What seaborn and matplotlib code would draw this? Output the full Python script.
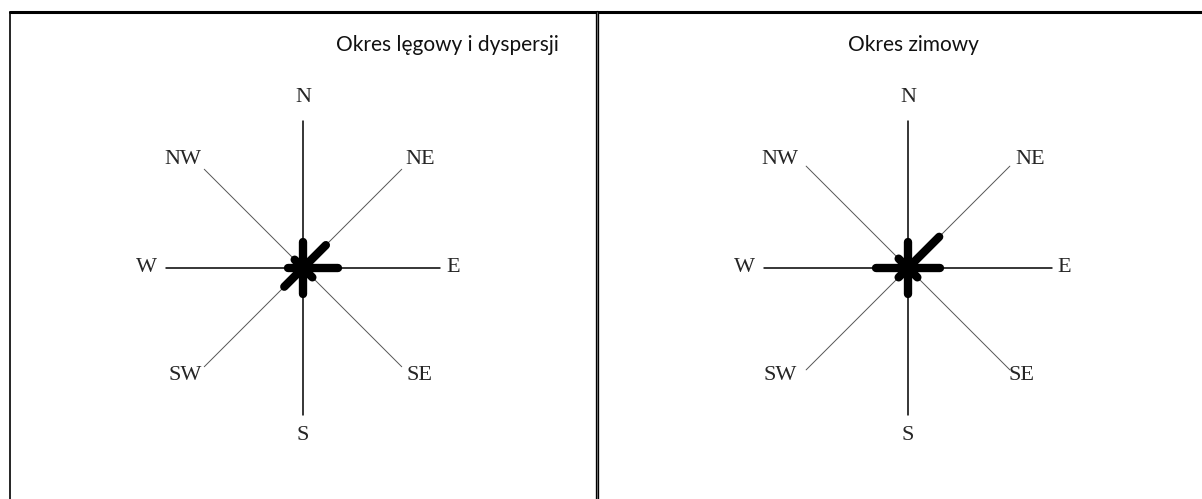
import numpy as np
import pandas as pd
import matplotlib
matplotlib.use("Agg")
import matplotlib.pyplot as plt
import seaborn as sns
from matplotlib.lines import Line2D

# -----------------------------
# DATA
# -----------------------------
directions = ["N", "NE", "E", "SE", "S", "SW", "W", "NW"]
angles_deg = [90, 45, 0, -45, -90, -135, 180, 135]

# length of the thick bar in each direction (arm of the rose = 100)
breeding_vals = [18, 22, 24, 9, 18, 18, 10, 8]
winter_vals = [18, 30, 22, 9, 18, 9, 22, 9]

titles = ["Okres lęgowy i dyspersji", "Okres zimowy"]

# -----------------------------
# LAYOUT (pixels, figure 1202 x 499)
# -----------------------------
W_PX, H_PX = 1202, 499
TOP = 12
PX = 1.47  # pixels per data unit

panels = [
    dict(x0=10, x1=597, cx=303, cy=268, ew=93, diag=95,
         lab={"N": (0, 170), "S": (0, -167), "W": (-157, 0), "E": (150, 0),
              "NW": (-120, 108), "NE": (117, 108), "SW": (-118, -107), "SE": (117, -107)},
         title_x=447),
    dict(x0=597, x1=1202, cx=908, cy=268, ew=98, diag=98,
         lab={"N": (0, 170), "S": (0, -167), "W": (-164, 0), "E": (156, 0),
              "NW": (-128, 108), "NE": (122, 108), "SW": (-128, -107), "SE": (114, -107)},
         title_x=913),
]

sns.set_style("white")
plt.rcParams["font.family"] = ["Liberation Serif", "DejaVu Serif"]

fig = plt.figure(figsize=(W_PX / 100, H_PX / 100), dpi=100)

for p, vals, title in zip(panels, [breeding_vals, winter_vals], titles):
    ax = fig.add_axes([p["x0"] / W_PX, 0, (p["x1"] - p["x0"]) / W_PX, (H_PX - TOP) / H_PX])

    # rose arms
    ax.plot([0, 0], [-100, 100], color="black", lw=1.1, zorder=1)
    ax.plot([-p["ew"], p["ew"]], [0, 0], color="black", lw=1.1, zorder=1)
    for a in [45, 135]:
        r = np.radians(a)
        ax.plot([-p["diag"] * np.cos(r), p["diag"] * np.cos(r)],
                [-p["diag"] * np.sin(r), p["diag"] * np.sin(r)],
                color="#555555", lw=0.7, zorder=1)

    # data bars
    rad = np.radians(angles_deg)
    df = pd.DataFrame({
        "direction": directions * 2,
        "x": np.concatenate([np.zeros(8), np.array(vals) * np.cos(rad)]),
        "y": np.concatenate([np.zeros(8), np.array(vals) * np.sin(rad)]),
    })
    sns.lineplot(data=df, x="x", y="y", units="direction", estimator=None,
                 sort=False, color="black", lw=6, ax=ax, zorder=3,
                 solid_capstyle="round", legend=False)
    ax.set_xlim((p["x0"] - p["cx"]) / PX, (p["x1"] - p["cx"]) / PX)
    ax.set_ylim((p["cy"] - H_PX) / PX, (p["cy"] - TOP) / PX)
    ax.set_axis_off()

    # direction labels
    for d in directions:
        dx, dy = p["lab"][d]
        ax.text(dx / PX, dy / PX, d, ha="center", va="center", fontsize=16)

    fig.text(p["title_x"] / W_PX, 1 - 45 / H_PX, title, ha="center", va="center",
             fontsize=15, family=["Lato", "DejaVu Sans"], color="#111111")

# frame lines
fig.add_artist(Line2D([10 / W_PX, 1], [1 - TOP / H_PX, 1 - TOP / H_PX], color="black", lw=2.2))
fig.add_artist(Line2D([10 / W_PX, 10 / W_PX], [0, 1 - TOP / H_PX], color="black", lw=1.2))
fig.add_artist(Line2D([597 / W_PX, 597 / W_PX], [0, 1 - TOP / H_PX], color="black", lw=2.4))
fig.add_artist(Line2D([597 / W_PX, 597 / W_PX], [0, 1 - TOP / H_PX], color="#bbbbbb", lw=0.4))

fig.savefig("out.png", dpi=100)
